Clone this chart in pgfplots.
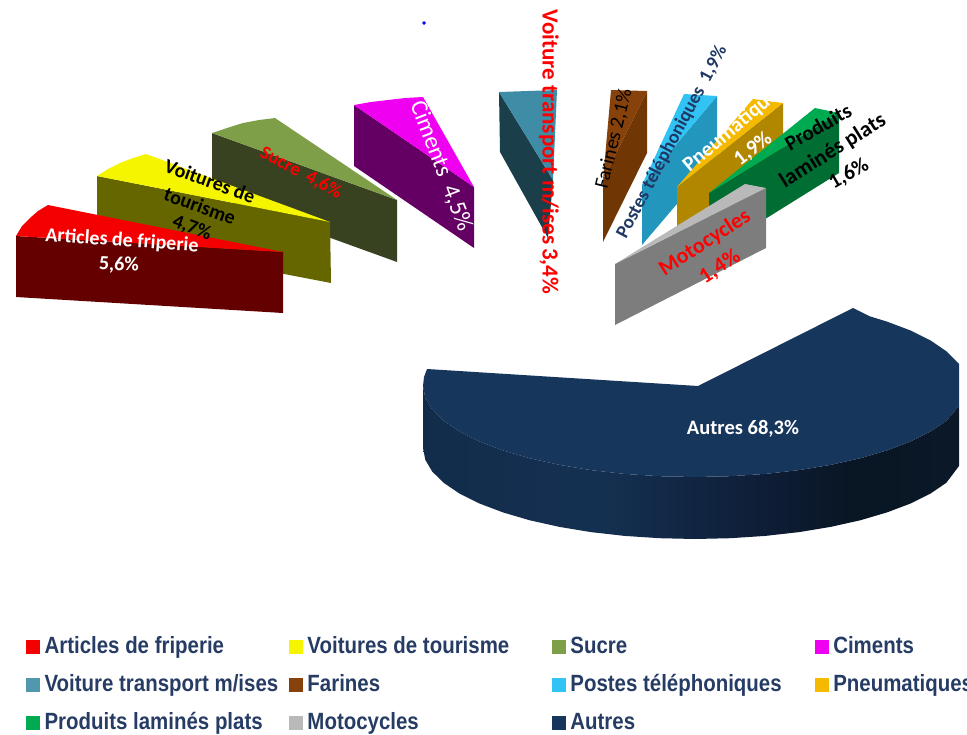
\documentclass[border=0pt]{standalone}
\usepackage{pgfplots}
\pgfplotsset{compat=1.18}
\usepackage{fontspec}
\setmainfont{Carlito}
\newfontfamily\legfont[FakeStretch=0.87]{Liberation Sans}
\definecolor{rT}{RGB}{245,0,0}\definecolor{rS}{RGB}{100,0,0}
\definecolor{yT}{RGB}{245,245,0}\definecolor{yS}{RGB}{102,102,0}
\definecolor{sT}{RGB}{127,158,72}\definecolor{sS}{RGB}{56,66,33}
\definecolor{cT}{RGB}{240,0,240}\definecolor{cS}{RGB}{100,0,100}
\definecolor{tT}{RGB}{62,140,165}\definecolor{tS}{RGB}{27,62,75}
\definecolor{bT}{RGB}{135,65,10}\definecolor{bS}{RGB}{112,55,5}
\definecolor{lT}{RGB}{50,195,245}\definecolor{lS}{RGB}{35,150,190}
\definecolor{oT}{RGB}{245,185,0}\definecolor{oS}{RGB}{178,135,0}
\definecolor{gT}{RGB}{0,170,80}\definecolor{gS}{RGB}{0,110,50}
\definecolor{mT}{RGB}{185,185,185}\definecolor{mS}{RGB}{125,125,125}
\definecolor{nT}{RGB}{22,54,92}
\definecolor{legtxt}{RGB}{38,60,100}
\definecolor{postes}{RGB}{31,56,100}
\pgfdeclarehorizontalshading{navyside}{100bp}{
  rgb(0bp)=(0.07,0.17,0.29);
  rgb(25bp)=(0.07,0.17,0.29);
  rgb(41.5bp)=(0.08,0.19,0.32);
  rgb(54.5bp)=(0.06,0.125,0.23);
  rgb(65bp)=(0.035,0.085,0.14);
  rgb(75bp)=(0.04,0.095,0.155);
  rgb(100bp)=(0.04,0.095,0.155)}
\newcommand{\legtxt}[1]{\makebox[249.5pt][l]{\hspace{5pt}\legfont\bfseries\fontsize{23.5}{26}\selectfont\color{legtxt}#1}}
\pgfplotsset{sw/.style={legend image code/.code={\fill[##1] (0pt,-4.5pt) rectangle (13pt,8.5pt);}}}
\newcommand{\leg}[2]{\addlegendimage{sw,#1}\addlegendentry{\legtxt{#2}}}
\begin{document}
\begin{tikzpicture}
\useasboundingbox (0,0) rectangle (967pt,734pt);
\begin{axis}[at={(0,0)},anchor=south west,scale only axis,width=967pt,height=734pt,
  xmin=0,xmax=967,ymin=0,ymax=734,y dir=reverse,hide axis,clip=false,
  legend columns=4,
  legend cell align=left,
  legend style={at={(axis cs:26,637.5)},anchor=north west,draw=none,fill=none,inner sep=0pt,
    column sep=0pt,row sep=16pt,
    nodes={inner sep=0pt,text height=16pt,text depth=6pt}},
  every axis plot/.append style={forget plot}]
\leg{rT}{Articles de friperie}
\leg{yT}{Voitures de tourisme}
\leg{sT}{Sucre}
\leg{cT}{Ciments}
\leg{tT!90!white}{Voiture transport m/ises}
\leg{bT}{Farines}
\leg{lT}{Postes téléphoniques}
\leg{oT}{Pneumatiques}
\leg{gT}{Produits laminés plats}
\leg{mT}{Motocycles}
\leg{nT}{Autres}
% Ciments
\addplot[fill=cS,draw=none] coordinates {(354,105)(474,187)(474,248)(354,166)} --cycle;
\addplot[fill=cT,draw=none] coordinates {(354,105)(371,102)(388,100)(405,98)(423,97)(474,187)} --cycle;
% Sucre
\addplot[fill=sS,draw=none] coordinates {(212,133)(397,200)(397,262)(212,195)} --cycle;
\addplot[fill=sT,draw=none] coordinates {(212,133)(227,128)(243,123)(259,120)(275,118)(397,200)} --cycle;
% Voitures de tourisme
\addplot[fill=yS,draw=none] coordinates {(97,176)(330,222)(331,283)(97,238)} --cycle;
\addplot[fill=yT,draw=none] coordinates {(97,176)(108,169)(120,163)(133,158)(146,154)(330,222)} --cycle;
% Articles de friperie
\addplot[fill=rS,draw=none] coordinates {(16,236)(283,252)(283,313)(16,297)} --cycle;
\addplot[fill=rT,draw=none] coordinates {(16,236)(22,226)(30,218)(38,211)(48,205)(283,252)} --cycle;
% Voiture transport
\addplot[fill=tS,draw=none] coordinates {(499,92)(553,180)(548,238)(500,152)} --cycle;
\addplot[fill=tT,draw=none] coordinates {(499,92)(557,90)(553,180)} --cycle;
% Farines
\addplot[fill=bS,draw=none] coordinates {(647,91)(647,153)(603,242)(603,180)} --cycle;
\addplot[fill=bT,draw=none] coordinates {(611,90)(647,91)(603,180)} --cycle;
% Postes
\addplot[fill=lS,draw=none] coordinates {(717,96)(717,157)(642,245)(642,185)} --cycle;
\addplot[fill=lT,draw=none] coordinates {(684,94)(717,96)(642,185)} --cycle;
% Pneumatiques
\addplot[fill=oS,draw=none] coordinates {(783,103)(783,163)(677,249)(677,187)} --cycle;
\addplot[fill=oT,draw=none] coordinates {(753,99)(783,103)(677,187)} --cycle;
% Produits
\addplot[fill=gS,draw=none] coordinates {(839,113)(839,173)(709,254)(709,193)} --cycle;
\addplot[fill=gT,draw=none] coordinates {(815,108)(839,113)(709,193)} --cycle;
% Motocycles
\addplot[fill=mS,draw=none] coordinates {(766,188)(766,248)(615,325)(615,264)} --cycle;
\addplot[fill=mT,draw=none] coordinates {(745,184)(766,188)(615,264)} --cycle;
% Autres : côté
\addplot[shade,shading=navyside,draw=none] coordinates {
 (423,386)(425.3,397.9)(432.3,409.6)(443.7,420.8)(459.4,431.5)(479.2,441.4)(502.7,450.3)(529.4,458.2)(559,464.8)(590.9,470.1)(624.6,473.9)(659.5,476.2)(695,477)(730.5,476.2)(765.4,473.9)(799.1,470.1)(831,464.8)(860.6,458.2)(887.3,450.3)(910.8,441.4)(930.6,431.5)(946.3,420.8)(959,406)
 (959,466)(946.3,482.8)(930.6,493.5)(910.8,503.4)(887.3,512.3)(860.6,520.2)(831,526.8)(799.1,532.1)(765.4,535.9)(730.5,538.2)(695,539)(659.5,538.2)(624.6,535.9)(590.9,532.1)(559,526.8)(529.4,520.2)(502.7,512.3)(479.2,503.4)(459.4,493.5)(443.7,482.8)(432.3,471.6)(425.3,459.9)(423,448)} --cycle;
% Autres : dessus
\addplot[fill=nT,draw=none] coordinates {
 (427,369)(698,386)(853,308)(869.8,316.3)(887.3,321.7)(910.8,330.6)(930.6,340.5)(946.3,351.2)(959,364)(959,406)(946.3,420.8)(930.6,431.5)(910.8,441.4)(887.3,450.3)(860.6,458.2)(831,464.8)(799.1,470.1)(765.4,473.9)(730.5,476.2)(695,477)(659.5,476.2)(624.6,473.9)(590.9,470.1)(559,464.8)(529.4,458.2)(502.7,450.3)(479.2,441.4)(459.4,431.5)(443.7,420.8)(432.3,409.6)(425.3,397.9)(423,386)(424,377)} --cycle;
\addplot[only marks,mark=*,mark size=1.5pt,color=blue] coordinates {(424,23)};
\node[white,font=\bfseries\fontsize{20}{22}\selectfont,rotate=-4] at (axis cs:122,241) {Articles de friperie};
\node[white,font=\bfseries\fontsize{20}{22}\selectfont,rotate=-2] at (axis cs:119,265) {5,6\%};
\node[black,font=\bfseries\fontsize{20}{22}\selectfont,rotate=-20] at (axis cs:210,181) {Voitures de};
\node[black,font=\bfseries\fontsize{20}{22}\selectfont,rotate=-20] at (axis cs:200,206) {tourisme};
\node[black,font=\bfseries\fontsize{20}{22}\selectfont,rotate=-20] at (axis cs:192,228) {4,7\%};
\node[red,font=\bfseries\fontsize{19}{21}\selectfont,rotate=-28] at (axis cs:301,173) {Sucre\ \ 4,6\%};
\node[white,font=\fontsize{24}{26}\selectfont,rotate=-69] at (axis cs:441,166) {Ciments\ \ 4,5\%};
\node[red,font=\bfseries\fontsize{23}{25}\selectfont,rotate=-90] at (axis cs:549,152) {Voiture transport m/ises\,3,4\%};
\node[black,font=\fontsize{20}{22}\selectfont,rotate=76] at (axis cs:614,139) {Farines 2,1\%};
\node[postes,font=\bfseries\fontsize{19}{21}\selectfont,rotate=62] at (axis cs:672,142) {Postes téléphoniques\ \ 1,9\%};
\node[white,font=\bfseries\fontsize{21}{23}\selectfont,rotate=40] at (axis cs:734,128) {Pneumatiques};
\node[white,font=\bfseries\fontsize{21}{23}\selectfont,rotate=38] at (axis cs:753,149) {1,9\%};
\node[black,font=\bfseries\fontsize{21}{23}\selectfont,rotate=30] at (axis cs:818,127) {Produits};
\node[black,font=\bfseries\fontsize{22}{24}\selectfont,rotate=32] at (axis cs:833,151) {laminés plats};
\node[black,font=\bfseries\fontsize{21}{23}\selectfont,rotate=30] at (axis cs:849,174) {1,6\%};
\node[red,font=\bfseries\fontsize{22}{24}\selectfont,rotate=33] at (axis cs:705,243) {Motocycles};
\node[red,font=\bfseries\fontsize{22}{24}\selectfont,rotate=33] at (axis cs:720,267) {1,4\%};
\node[white,font=\bfseries\fontsize{20.5}{22}\selectfont] at (axis cs:743,429) {Autres 68,3\%};
\end{axis}
\end{tikzpicture}
\end{document}
